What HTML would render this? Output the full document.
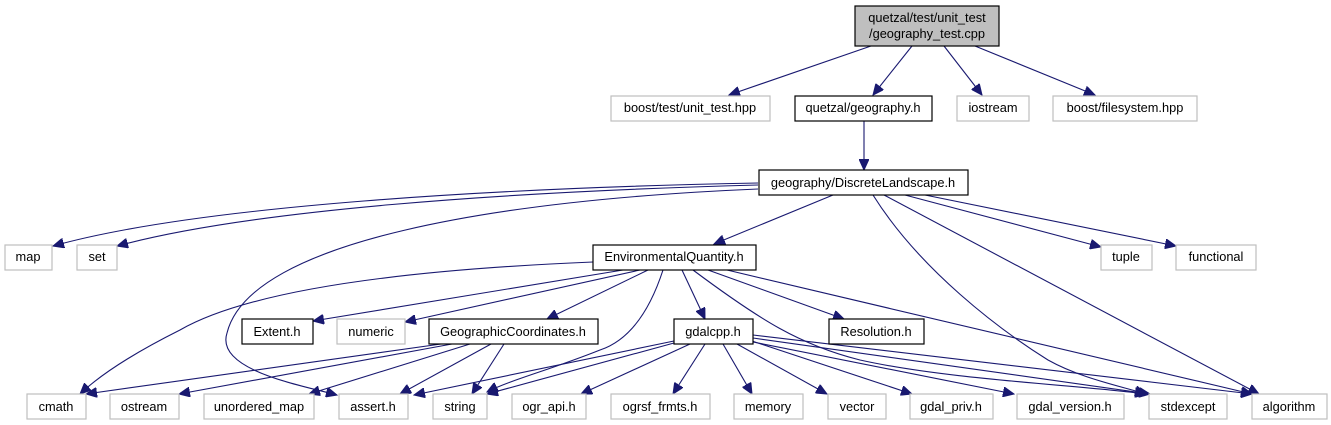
<!DOCTYPE html>
<html><head><meta charset="utf-8"><style>
html,body{margin:0;padding:0;background:#fff;width:1331px;height:425px;overflow:hidden}
svg{display:block}
text{font-family:"Liberation Sans",Arial,sans-serif;font-size:12.8px;fill:#000;text-anchor:middle}
.e{fill:#fff;stroke:#bfbfbf;stroke-width:1.2}
.i{fill:#fff;stroke:#000;stroke-width:1.2}
path{fill:none;stroke:#191970;stroke-width:1.1}
</style></head><body>
<svg width="1331" height="425" viewBox="0 0 1331 425" xmlns="http://www.w3.org/2000/svg">
<defs><marker id="a" markerUnits="userSpaceOnUse" markerWidth="12" markerHeight="10" refX="11" refY="5" orient="auto"><polygon points="0,0 11,5 0,10" fill="#191970" stroke="#191970"/></marker></defs>
<g marker-end="url(#a)">
<path d="M871,46 L729,95"/>
<path d="M912,46 L873,95"/>
<path d="M944,46 L982,95"/>
<path d="M975,46 L1095,95"/>
<path d="M864,121 L864,170"/>
<path d="M758,183 C500,188 200,205 53,246"/>
<path d="M758,185 C500,192 250,210 117,246"/>
<path d="M758,189 C500,200 250,240 227,333 C215,370 300,385 337,395"/>
<path d="M833,195 L714,244"/>
<path d="M873,195 C920,270 1000,330 1048,360 C1080,378 1120,386 1146,394"/>
<path d="M884,195 L1259,394"/>
<path d="M905,195 L1101,247"/>
<path d="M925,195 L1176,246"/>
<path d="M593,262 C400,270 250,290 180,330 C130,355 100,375 80,394"/>
<path d="M623,270 L313,321"/>
<path d="M640,270 L405,322"/>
<path d="M648,270 L547,319"/>
<path d="M663,270 C650,310 630,340 600,350 C550,370 510,380 487,392"/>
<path d="M682,270 L705,319"/>
<path d="M693,270 C760,320 800,345 860,360 C950,380 1080,385 1146,394"/>
<path d="M708,270 L844,319"/>
<path d="M727,270 L1252,394"/>
<path d="M441,344 L86,394"/>
<path d="M452,344 L179,394"/>
<path d="M470,344 L309,394"/>
<path d="M491,344 L400,394"/>
<path d="M504,344 L472,394"/>
<path d="M674,341 L414,395"/>
<path d="M674,343 L487,394"/>
<path d="M690,344 L581,394"/>
<path d="M705,344 L673,394"/>
<path d="M723,344 L752,394"/>
<path d="M737,344 L827,394"/>
<path d="M752,341 L912,394"/>
<path d="M753,342 L1014,394"/>
<path d="M753,338 L1150,394"/>
<path d="M753,335 L1252,394"/>
</g>
<rect x="855" y="6" width="144" height="40" fill="#bfbfbf" stroke="#000" stroke-width="1.2"/>
<text x="927" y="22">quetzal/test/unit_test</text><text x="927" y="38">/geography_test.cpp</text>
<rect class="e" x="611" y="96" width="159" height="25"/><text x="690" y="112">boost/test/unit_test.hpp</text>
<rect class="i" x="795" y="96" width="137" height="25"/><text x="863" y="112">quetzal/geography.h</text>
<rect class="e" x="957" y="96" width="72" height="25"/><text x="993" y="112">iostream</text>
<rect class="e" x="1053" y="96" width="144" height="25"/><text x="1125" y="112">boost/filesystem.hpp</text>
<rect class="i" x="759" y="170" width="209" height="25"/><text x="863" y="187">geography/DiscreteLandscape.h</text>
<rect class="e" x="5" y="245" width="47" height="25"/><text x="28" y="261">map</text>
<rect class="e" x="77" y="245" width="40" height="25"/><text x="97" y="261">set</text>
<rect class="i" x="593" y="245" width="163" height="25"/><text x="674" y="261">EnvironmentalQuantity.h</text>
<rect class="e" x="1101" y="245" width="51" height="25"/><text x="1126" y="261">tuple</text>
<rect class="e" x="1176" y="245" width="80" height="25"/><text x="1216" y="261">functional</text>
<rect class="i" x="242" y="319" width="71" height="25"/><text x="277" y="336">Extent.h</text>
<rect class="e" x="337" y="319" width="68" height="25"/><text x="371" y="336">numeric</text>
<rect class="i" x="429" y="319" width="169" height="25"/><text x="513" y="336">GeographicCoordinates.h</text>
<rect class="i" x="674" y="319" width="79" height="25"/><text x="713" y="336">gdalcpp.h</text>
<rect class="i" x="829" y="319" width="95" height="25"/><text x="876" y="336">Resolution.h</text>
<rect class="e" x="27" y="394" width="59" height="25"/><text x="56" y="411">cmath</text>
<rect class="e" x="110" y="394" width="69" height="25"/><text x="144" y="411">ostream</text>
<rect class="e" x="204" y="394" width="110" height="25"/><text x="259" y="411">unordered_map</text>
<rect class="e" x="339" y="394" width="69" height="25"/><text x="373" y="411">assert.h</text>
<rect class="e" x="433" y="394" width="54" height="25"/><text x="460" y="411">string</text>
<rect class="e" x="512" y="394" width="74" height="25"/><text x="549" y="411">ogr_api.h</text>
<rect class="e" x="611" y="394" width="99" height="25"/><text x="660" y="411">ogrsf_frmts.h</text>
<rect class="e" x="734" y="394" width="69" height="25"/><text x="768" y="411">memory</text>
<rect class="e" x="828" y="394" width="58" height="25"/><text x="857" y="411">vector</text>
<rect class="e" x="910" y="394" width="83" height="25"/><text x="951" y="411">gdal_priv.h</text>
<rect class="e" x="1017" y="394" width="107" height="25"/><text x="1070" y="411">gdal_version.h</text>
<rect class="e" x="1149" y="394" width="78" height="25"/><text x="1188" y="411">stdexcept</text>
<rect class="e" x="1252" y="394" width="75" height="25"/><text x="1289" y="411">algorithm</text>
</svg>
</body></html>
